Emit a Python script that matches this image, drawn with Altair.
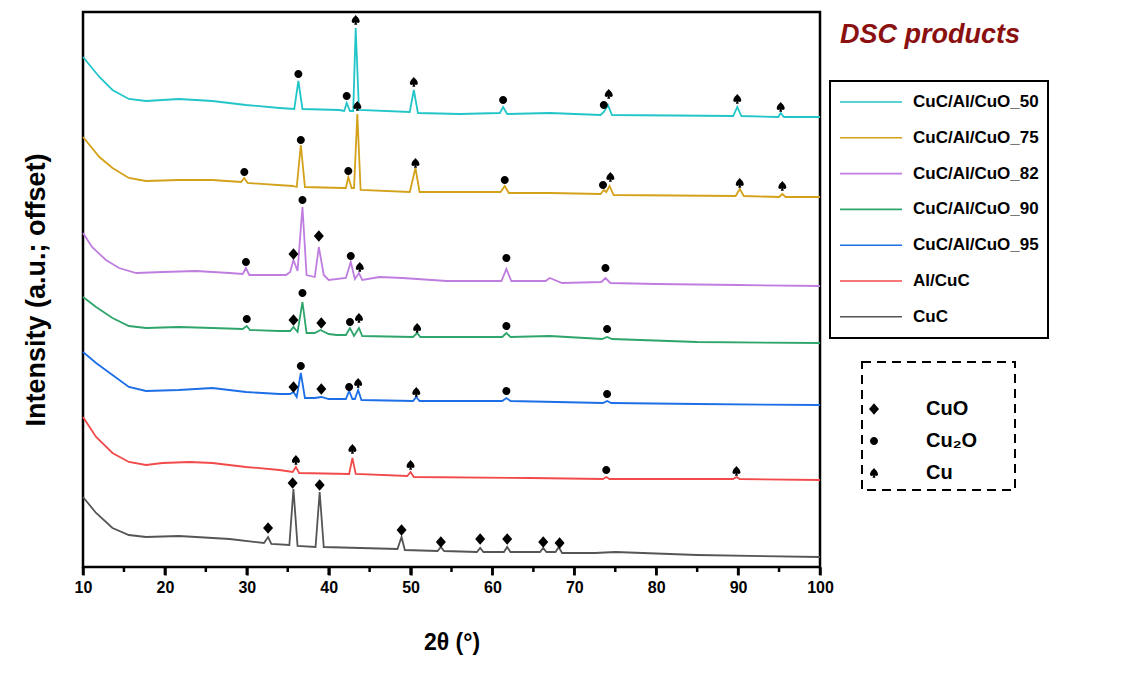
import altair as alt
import pandas as pd

SAMPLES = ["CuC/Al/CuO_50", "CuC/Al/CuO_75", "CuC/Al/CuO_82", "CuC/Al/CuO_90",
           "CuC/Al/CuO_95", "Al/CuC", "CuC"]
COLORS = ["#22c5c8", "#d4a11a", "#c07de0", "#2ea56a", "#1c6fe6", "#f24a4a", "#555555"]

# ---- traces: 2theta and offset intensity (a.u.) ----
tt_50 = [10, 12, 13.6, 15.6, 17.7, 21.7, 25.8, 29.9, 34, 35.8, 36.3, 36.8, 41.3, 41.9, 42.2, 42.6,
         43.0, 43.3, 43.7, 49.9, 50.4, 50.9, 56, 60.9, 61.3, 61.8, 67, 73.2, 73.6, 74.1, 74.6,
         89.4, 89.9, 90.4, 94.9, 95.2, 95.6, 100]
i_50 = [525, 505, 492, 483, 481, 483, 481, 477, 474, 473, 501, 473, 472, 471, 479, 471,
        471, 554, 472, 470, 492, 469, 468, 469, 475, 468, 469, 467, 470, 477, 467,
        466, 475, 466, 465, 469, 465, 465]

tt_75 = [10, 12, 13.6, 15.6, 17.7, 21.7, 25.8, 29.3, 29.7, 30.1, 35.6, 36.1, 36.6, 37.1, 41.7,
         42.1, 42.4, 42.8, 43.1, 43.5, 43.9, 49.9, 50.6, 51.1, 61.0, 61.5, 62.0, 67, 73.2, 73.6,
         73.9, 74.3, 74.8, 89.7, 90.2, 90.7, 95.0, 95.4, 95.8, 100]
i_75 = [445, 425, 414, 404, 401, 402, 402, 400, 404, 399, 396, 395, 437, 395, 394,
        394, 405, 394, 394, 468, 392, 390, 414, 390, 390, 396, 389, 389, 388, 392,
        390, 396, 387, 386, 393, 386, 385, 388, 385, 385]

tt_82 = [10, 11.1, 12.8, 14.4, 16.5, 19.7, 23.8, 27.9, 29.5, 29.9, 30.3, 34.8, 35.3, 35.7, 36.2,
         36.8, 37.3, 38.3, 38.8, 39.4, 40, 42.1, 42.7, 43.2, 43.7, 44.1, 46.2, 49, 54.4, 61.1,
         61.7, 62.3, 66.5, 67, 68.5, 73.3, 73.8, 74.4, 80, 90, 100]
i_82 = [349, 335, 322, 314, 309, 310, 311, 309, 308, 314, 307, 307, 310, 322, 311,
        375, 307, 305, 335, 307, 302, 304, 320, 303, 309, 302, 305, 304, 301, 301,
        313, 301, 301, 304, 299, 300, 304, 299, 298, 297, 296]

tt_90 = [10, 11.6, 13.6, 15.6, 17.7, 21.7, 25.8, 29.5, 30, 30.4, 34, 35.3, 35.7, 36.2, 36.8,
         37.3, 38.3, 39.0, 40, 41, 42.1, 42.6, 43.1, 43.7, 44.1, 50.3, 50.8, 51.2, 56, 61.2,
         61.7, 62.2, 67, 73.4, 74, 74.6, 85, 100]
i_90 = [285, 275, 264, 256, 254, 255, 254, 253, 256, 252, 251, 251, 255, 250, 280,
        249, 249, 252, 248, 247, 247, 254, 246, 254, 246, 245, 249, 245, 245, 245,
        249, 245, 246, 243, 245, 243, 240, 239]

tt_95 = [10, 11.6, 13.6, 15.6, 17.7, 21.7, 25.8, 29.9, 34, 35.3, 35.7, 36.1, 36.6, 37.1, 38.3,
         39.1, 40, 42.1, 42.5, 42.9, 43.2, 43.6, 44, 50.3, 50.7, 51.1, 61.2, 61.7, 62.2, 73.5,
         74, 74.5, 85, 100]
i_95 = [230, 219, 207, 195, 191, 192, 194, 190, 188, 188, 190, 185, 209, 184, 184,
        185, 183, 183, 191, 183, 183, 192, 182, 181, 185, 181, 181, 184, 181, 179,
        181, 179, 178, 177]

tt_al = [10, 11.6, 13.6, 15.6, 17.7, 19.7, 23, 25.8, 29.9, 34, 35.6, 36, 36.4, 42.5, 42.9,
         43.3, 49.6, 50, 50.4, 64.6, 73.5, 73.9, 74.3, 89.4, 89.8, 90.2, 100]
i_al = [165, 145, 129, 120, 117, 119, 120, 119, 115, 112, 110, 115, 109, 108, 124,
        108, 106, 110, 105, 104, 103, 105, 103, 103, 105, 103, 102]

tt_cuc = [10, 11.6, 13.6, 15.6, 17.7, 21.7, 23.8, 27.9, 32.1, 32.6, 33.0, 35.2, 35.7, 36.2, 38.4,
          38.9, 39.4, 48.4, 48.9, 49.3, 53.3, 53.7, 54.1, 58.1, 58.5, 58.9, 61.4, 61.8, 62.2, 65.8,
          66.2, 66.6, 67.7, 68.1, 68.5, 72.5, 75, 85, 100]
i_cuc = [85, 69, 54, 47, 45, 46, 45, 43, 39, 45, 38, 37, 93, 36, 35,
         90, 35, 33, 45, 32, 31, 35, 31, 30, 34, 30, 30, 35, 30, 30,
         34, 30, 30, 35, 29, 29, 30, 27, 25]

# ---- phase markers ----
PHASES = ["CuO", "Cu\u2082O", "Cu"]
cuo_tt = [35.7, 38.8, 35.7, 39.1, 35.7, 39.1, 32.6, 35.6, 38.9, 48.9, 53.7, 58.5, 61.8, 66.2, 68.2]
cuo_i = [328, 346, 262, 259, 195, 193, 54, 99, 97, 52, 40, 43, 43, 40, 39]
cu2o_tt = [36.3, 42.2, 61.3, 73.6, 29.7, 36.6, 42.4, 61.5, 73.5, 29.9, 36.8, 42.7, 61.7, 73.8,
           30, 36.8, 42.6, 61.7, 74, 36.6, 42.5, 61.7, 74, 73.9]
cu2o_i = [508, 486, 482, 477, 410, 442, 411, 402, 397, 320, 382, 326, 324, 314,
          263, 289, 260, 256, 253, 216, 195, 191, 188, 112]
cu_tt = [43.3, 50.4, 74.2, 89.9, 95.2, 43.5, 50.6, 74.4, 90.2, 95.4, 43.8, 43.7, 50.8, 43.6,
         50.7, 36, 42.9, 50, 89.8]
cu_i = [562, 500, 488, 483, 475, 476, 419, 405, 399, 396, 315, 264, 254, 199,
        190, 122, 133, 117, 111]

MAJOR_TICKS = [10, 20, 30, 40, 50, 60, 70, 80, 90, 100]
MINOR_TICKS = [15, 25, 35, 45, 55, 65, 75, 85, 95]

DIAMOND = "M0,-1.15L1,0L0,1.15L-1,0Z"
CIRCLE = "M-0.8,0A0.8,0.8 0 1,0 0.8,0A0.8,0.8 0 1,0 -0.8,0Z"
SPADE = ("M0,-1C0.3,-0.6 0.8,-0.3 0.8,0.25C0.8,0.6 0.4,0.7 0.15,0.45L0.3,0.95L-0.3,0.95"
         "L-0.15,0.45C-0.4,0.7 -0.8,0.6 -0.8,0.25C-0.8,-0.3 -0.3,-0.6 0,-1Z")

traces = [(tt_50, i_50), (tt_75, i_75), (tt_82, i_82), (tt_90, i_90),
          (tt_95, i_95), (tt_al, i_al), (tt_cuc, i_cuc)]
rows = []
for name, (xs, ys) in zip(SAMPLES, traces):
    for xv, yv in zip(xs, ys):
        rows.append({"sample": name, "tt": xv, "intensity": yv})
trace_df = pd.DataFrame(rows)

mrows = []
for ph, xs, ys in [(PHASES[0], cuo_tt, cuo_i), (PHASES[1], cu2o_tt, cu2o_i), (PHASES[2], cu_tt, cu_i)]:
    for xv, yv in zip(xs, ys):
        mrows.append({"phase": ph, "tt": xv, "intensity": yv})
marker_df = pd.DataFrame(mrows)

major_df = pd.DataFrame({"tt": MAJOR_TICKS})
minor_df = pd.DataFrame({"tt": MINOR_TICKS})

FONT = "Liberation Sans"

x_scale = alt.Scale(domain=[10, 100], nice=False, zero=False)
y_scale = alt.Scale(domain=[15, 570], nice=False, zero=False)

x_axis = alt.Axis(
    orient="bottom", values=MAJOR_TICKS, ticks=True, tickSize=8, tickWidth=2.5, tickColor="black",
    domain=False, grid=False,
    labelFont=FONT, labelFontSize=16, labelFontWeight="bold", labelColor="black",
    labelPadding=4, labelFlush=False, labelOverlap=False,
    title="2\u03b8 (\u00b0)", titleFont=FONT, titleFontSize=23, titleFontWeight="bold",
    titleColor="black", titlePadding=36,
)
y_axis = alt.Axis(
    labels=False, ticks=False, domain=False, grid=False,
    title="Intensity (a.u.; offset)", titleFont=FONT, titleFontSize=27,
    titleFontWeight="bold", titleColor="black", titlePadding=33,
)

X = alt.X("tt:Q", scale=x_scale, axis=x_axis)
Y = alt.Y("intensity:Q", scale=y_scale, axis=y_axis)

lines = alt.Chart(trace_df).mark_line(strokeWidth=1.8).encode(
    x=X,
    y=Y,
    color=alt.Color(
        "sample:N",
        scale=alt.Scale(domain=SAMPLES, range=COLORS),
        legend=alt.Legend(
            orient="none", legendX=747, legendY=69, title=None,
            symbolType="stroke", symbolSize=3844, symbolStrokeWidth=1.6,
            labelFont=FONT, labelFontSize=17, labelFontWeight="bold", labelColor="black",
            labelOffset=10, labelLimit=400, padding=9, rowPadding=11.8, clipHeight=24,
            strokeColor="black",
        ),
    ),
    order=alt.Order("tt:Q"),
)

points = alt.Chart(marker_df).mark_point(filled=True, color="black", opacity=1, size=100).encode(
    x=X,
    y=Y,
    shape=alt.Shape(
        "phase:N",
        scale=alt.Scale(domain=PHASES, range=[DIAMOND, CIRCLE, SPADE]),
        legend=alt.Legend(
            orient="none", legendX=781, legendY=386, title=None,
            symbolSize=100, symbolFillColor="black", symbolStrokeColor="black",
            labelFont=FONT, labelFontSize=20, labelFontWeight="bold", labelColor="black",
            labelOffset=42, labelLimit=400, padding=0, rowPadding=10, clipHeight=22,
            strokeColor="transparent",
        ),
    ),
)

# axis tick marks (outward, major + minor)
major_ticks = alt.Chart(major_df).mark_rule(color="black", strokeWidth=2.5).encode(
    x=X, y=alt.value(555), y2=alt.value(563)
)
minor_ticks = alt.Chart(minor_df).mark_rule(color="black", strokeWidth=2.5).encode(
    x=X, y=alt.value(555), y2=alt.value(560)
)

box = alt.Chart(alt.Data(values=[{"k": 1}])).mark_rect(
    fill="white", fillOpacity=0, stroke="black", strokeWidth=2, strokeDash=[9, 6]
).encode(x=alt.value(779), x2=alt.value(932), y=alt.value(350), y2=alt.value(478))

chart = alt.layer(lines, points, box, major_ticks, minor_ticks).properties(
    width=737, height=555,
    autosize=alt.AutoSizeParams(type="none"),
    padding={"left": 75, "top": 4, "right": 316, "bottom": 90},
    title=alt.TitleParams(
        text="DSC products", anchor="start", frame="group", orient="top", offset=0,
        dx=757, dy=50, baseline="middle", font=FONT, fontSize=27, fontStyle="italic",
        fontWeight="bold", color="#8b1010",
    ),
).configure_view(stroke="black", strokeWidth=2.5, clip=False).configure_legend(strokeWidth=2)

chart.save("out.html", embed_options={"renderer": "svg", "actions": False})
